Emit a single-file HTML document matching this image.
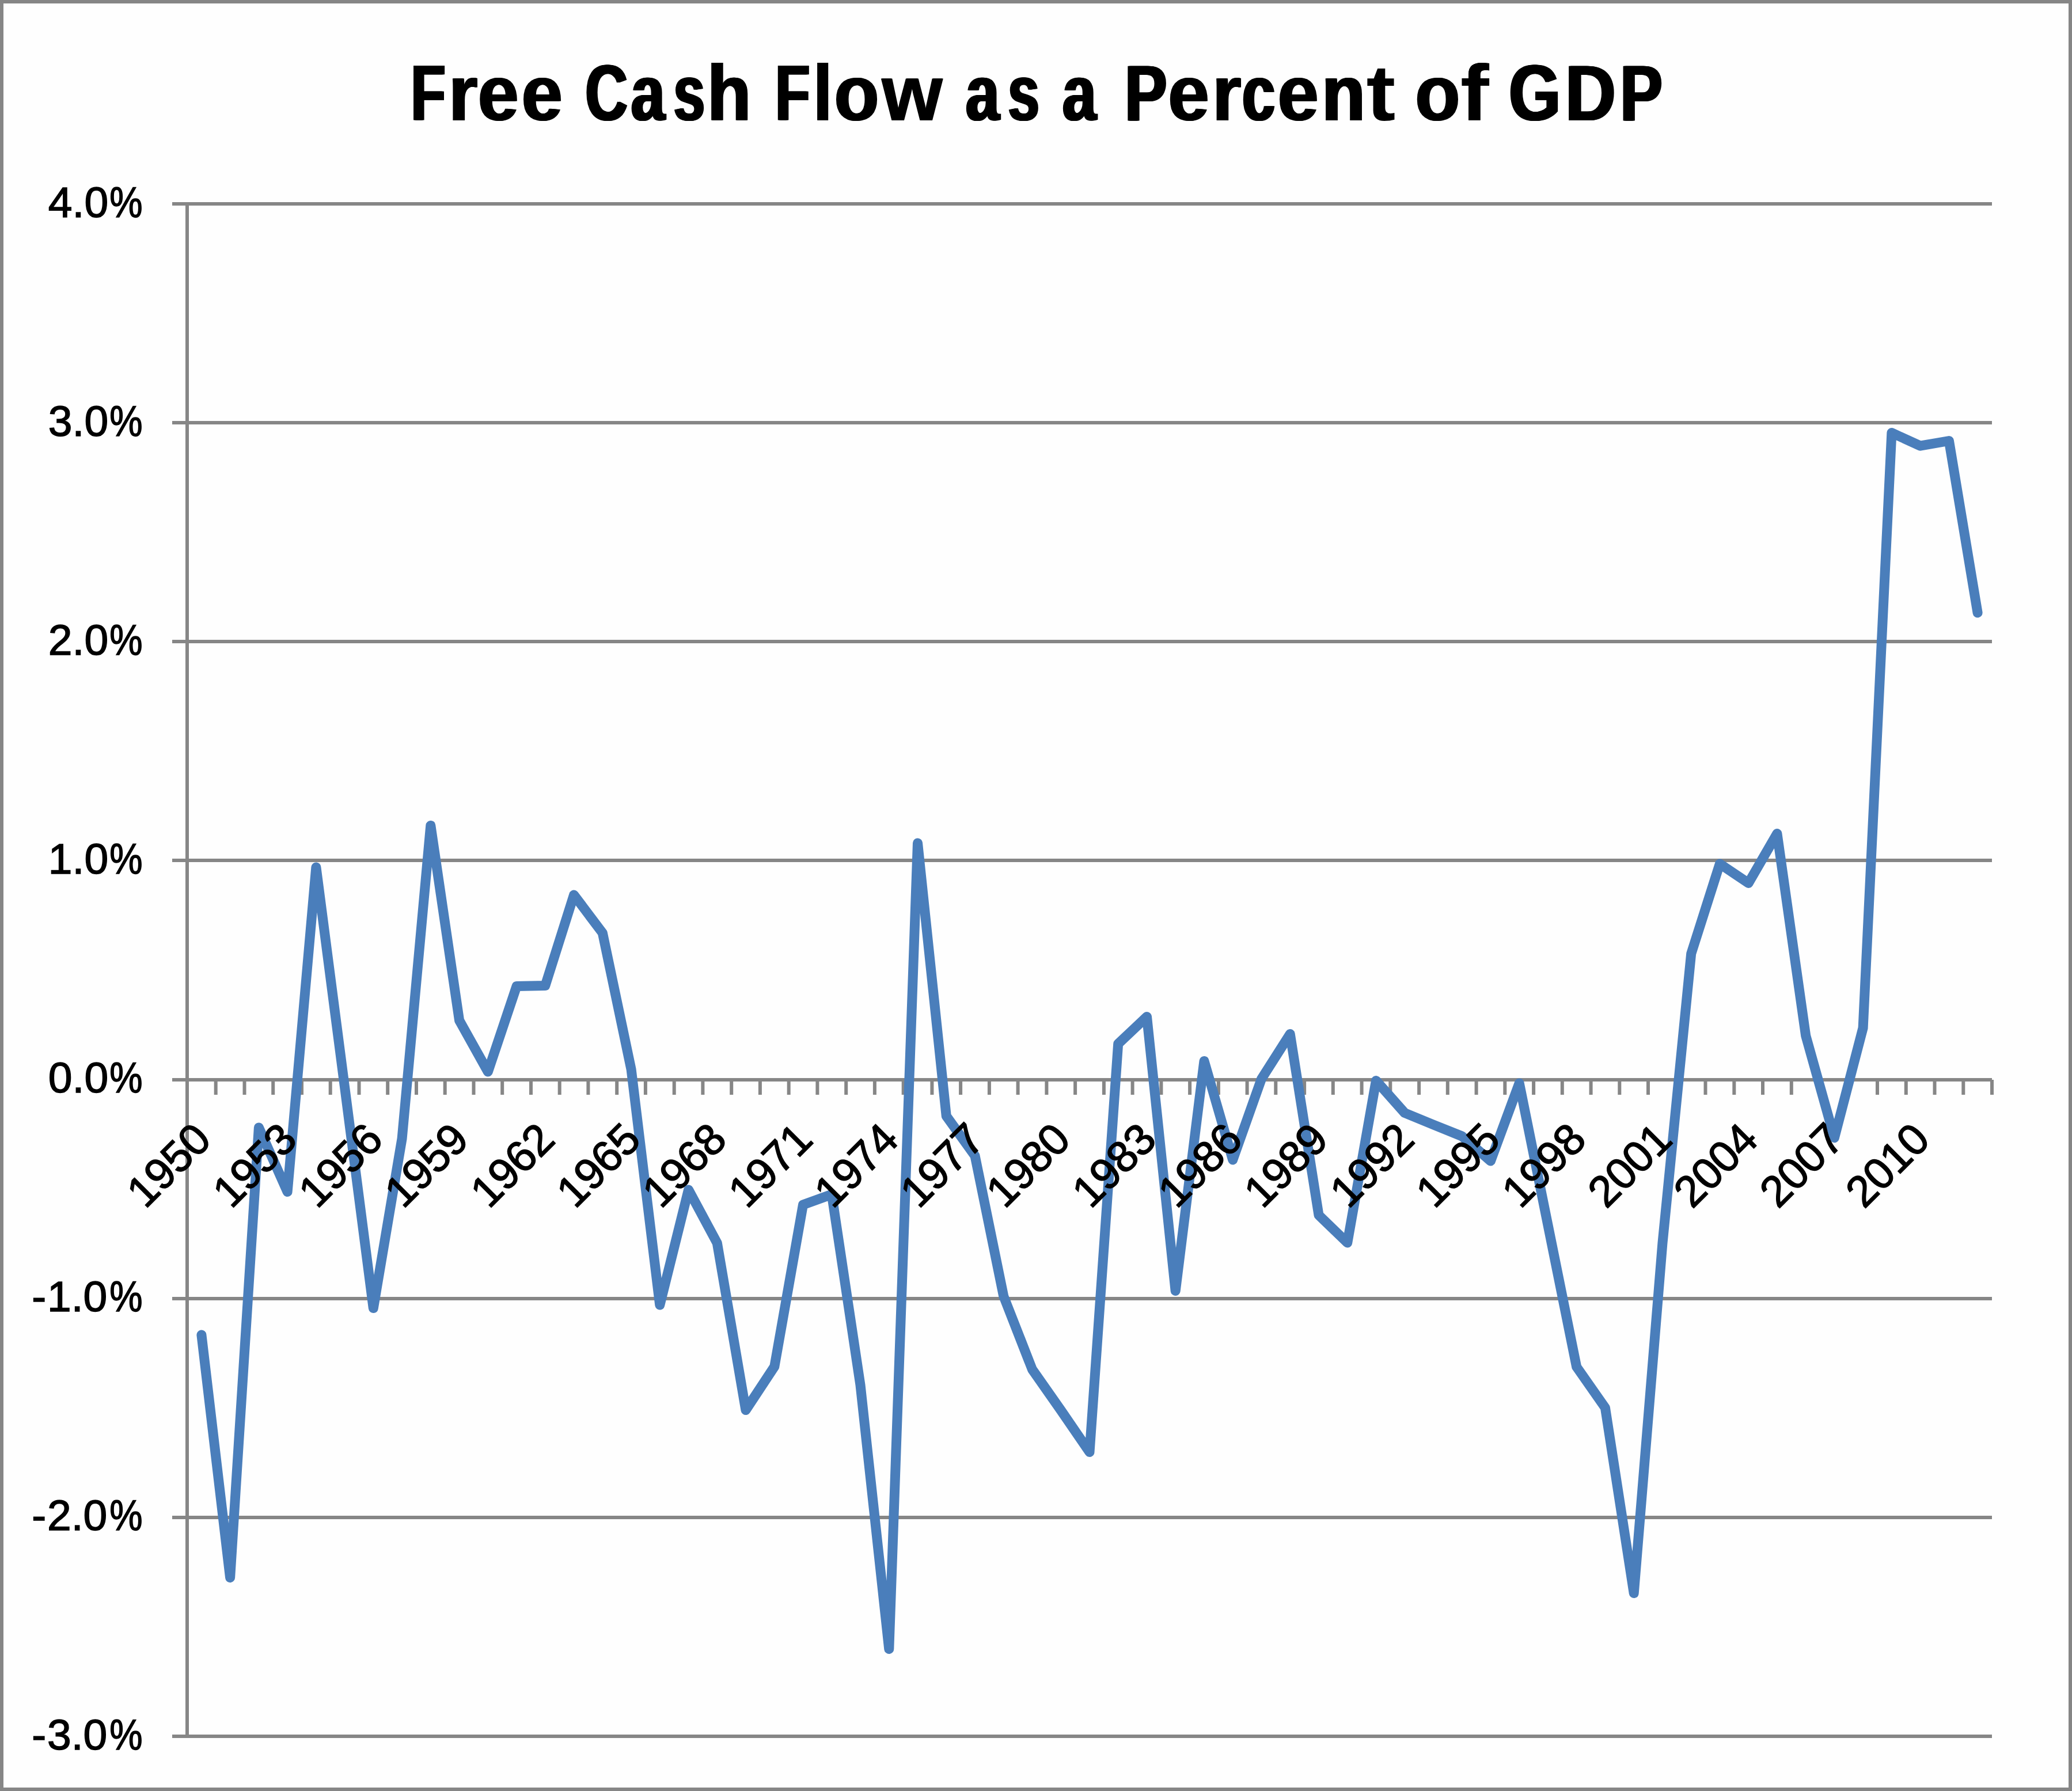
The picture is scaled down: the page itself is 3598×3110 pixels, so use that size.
<!DOCTYPE html>
<html><head><meta charset="utf-8"><title>Free Cash Flow as a Percent of GDP</title>
<style>
html,body{margin:0;padding:0;background:#fefefe;}
body{width:3598px;height:3110px;overflow:hidden;}
svg{display:block;}
text{font-family:"Liberation Sans",sans-serif;fill:#000;}
.t{font-weight:bold;font-size:137px;stroke:#000;stroke-width:0;}
.y{font-size:75px;stroke:#000;stroke-width:1.5;}
.x{font-size:76px;stroke:#000;stroke-width:1.5;}
</style></head><body>
<svg width="3598" height="3110" viewBox="0 0 3598 3110">
<rect x="0" y="0" width="3598" height="3110" fill="#fefefe"/>
<rect x="3" y="3" width="3592" height="3104" fill="none" stroke="#868686" stroke-width="6"/>
<g stroke="#868686" stroke-width="6" fill="none">
<line x1="299" y1="354" x2="3459" y2="354"/>
<line x1="299" y1="734" x2="3459" y2="734"/>
<line x1="299" y1="1114" x2="3459" y2="1114"/>
<line x1="299" y1="1494" x2="3459" y2="1494"/>
<line x1="299" y1="1875" x2="3459" y2="1875"/>
<line x1="299" y1="2255" x2="3459" y2="2255"/>
<line x1="299" y1="2635" x2="3459" y2="2635"/>
<line x1="299" y1="3015" x2="3459" y2="3015"/>
<line x1="325" y1="351" x2="325" y2="3018"/>
<path d="M374.7 1875V1901M424.5 1875V1901M474.2 1875V1901M524.0 1875V1901M573.7 1875V1901M623.5 1875V1901M673.2 1875V1901M723.0 1875V1901M772.7 1875V1901M822.5 1875V1901M872.2 1875V1901M922.0 1875V1901M971.7 1875V1901M1021.4 1875V1901M1071.2 1875V1901M1120.9 1875V1901M1170.7 1875V1901M1220.4 1875V1901M1270.2 1875V1901M1319.9 1875V1901M1369.7 1875V1901M1419.4 1875V1901M1469.2 1875V1901M1518.9 1875V1901M1568.7 1875V1901M1618.4 1875V1901M1668.1 1875V1901M1717.9 1875V1901M1767.6 1875V1901M1817.4 1875V1901M1867.1 1875V1901M1916.9 1875V1901M1966.6 1875V1901M2016.4 1875V1901M2066.1 1875V1901M2115.9 1875V1901M2165.6 1875V1901M2215.3 1875V1901M2265.1 1875V1901M2314.8 1875V1901M2364.6 1875V1901M2414.3 1875V1901M2464.1 1875V1901M2513.8 1875V1901M2563.6 1875V1901M2613.3 1875V1901M2663.1 1875V1901M2712.8 1875V1901M2762.6 1875V1901M2812.3 1875V1901M2862.0 1875V1901M2911.8 1875V1901M2961.5 1875V1901M3011.3 1875V1901M3061.0 1875V1901M3110.8 1875V1901M3160.5 1875V1901M3210.3 1875V1901M3260.0 1875V1901M3309.8 1875V1901M3359.5 1875V1901M3409.3 1875V1901M3459.0 1875V1901"/>
</g>
<polyline points="349.9,2318.0 399.6,2739.5 449.4,1958.0 499.1,2069.5 548.9,1506.0 598.6,1888.0 648.3,2271.5 698.1,1977.0 747.8,1433.5 797.6,1772.0 847.3,1861.0 897.1,1712.5 946.8,1711.5 996.6,1554.0 1046.3,1620.0 1096.1,1857.0 1145.8,2266.0 1195.6,2066.0 1245.3,2158.5 1295.0,2448.5 1344.8,2373.0 1394.5,2092.0 1444.3,2074.0 1494.0,2405.0 1543.8,2863.5 1593.5,1464.0 1643.3,1938.0 1693.0,2007.0 1742.8,2251.0 1792.5,2378.0 1842.3,2449.0 1892.0,2521.5 1941.7,1812.5 1991.5,1765.5 2041.2,2241.5 2091.0,1842.5 2140.7,2014.0 2190.5,1873.5 2240.2,1795.5 2290.0,2110.0 2339.7,2158.0 2389.5,1876.5 2439.2,1932.5 2489.0,1953.0 2538.7,1973.0 2588.4,2016.0 2638.2,1881.0 2687.9,2127.0 2737.7,2373.5 2787.4,2444.5 2837.2,2766.5 2886.9,2159.0 2936.7,1656.0 2986.4,1500.0 3036.2,1533.5 3085.9,1447.5 3135.7,1798.5 3185.4,1975.7 3235.1,1785.0 3284.9,751.5 3334.6,774.2 3384.4,765.5 3434.1,1064.0" fill="none" stroke="#4a7ebb" stroke-width="17" stroke-linejoin="round" stroke-linecap="round"/>
<text class="y" text-anchor="end" x="188.1" y="377.0">4.0</text>
<text class="y" x="190.2" y="377.0" textLength="57.3" lengthAdjust="spacingAndGlyphs">%</text>
<text class="y" text-anchor="end" x="188.1" y="757.2">3.0</text>
<text class="y" x="190.2" y="757.2" textLength="57.3" lengthAdjust="spacingAndGlyphs">%</text>
<text class="y" text-anchor="end" x="188.1" y="1137.0">2.0</text>
<text class="y" x="190.2" y="1137.0" textLength="57.3" lengthAdjust="spacingAndGlyphs">%</text>
<text class="y" text-anchor="end" x="188.1" y="1517.2">1.0</text>
<text class="y" x="190.2" y="1517.2" textLength="57.3" lengthAdjust="spacingAndGlyphs">%</text>
<text class="y" text-anchor="end" x="188.1" y="1897.3">0.0</text>
<text class="y" x="190.2" y="1897.3" textLength="57.3" lengthAdjust="spacingAndGlyphs">%</text>
<text class="y" text-anchor="end" x="188.1" y="2277.1"><tspan dx="-1.8">-</tspan><tspan dx="1.8">1.0</tspan></text>
<text class="y" x="190.2" y="2277.1" textLength="57.3" lengthAdjust="spacingAndGlyphs">%</text>
<text class="y" text-anchor="end" x="188.1" y="2657.2"><tspan dx="-1.8">-</tspan><tspan dx="1.8">2.0</tspan></text>
<text class="y" x="190.2" y="2657.2" textLength="57.3" lengthAdjust="spacingAndGlyphs">%</text>
<text class="y" text-anchor="end" x="188.1" y="3038.3"><tspan dx="-1.8">-</tspan><tspan dx="1.8">3.0</tspan></text>
<text class="y" x="190.2" y="3038.3" textLength="57.3" lengthAdjust="spacingAndGlyphs">%</text>
<text class="x" x="-167.0" y="0" textLength="167.0" lengthAdjust="spacing" transform="translate(370.3 1982.5) rotate(-45)">1950</text>
<text class="x" x="-167.0" y="0" textLength="167.0" lengthAdjust="spacing" transform="translate(519.5 1982.5) rotate(-45)">1953</text>
<text class="x" x="-167.0" y="0" textLength="167.0" lengthAdjust="spacing" transform="translate(668.7 1982.5) rotate(-45)">1956</text>
<text class="x" x="-167.0" y="0" textLength="167.0" lengthAdjust="spacing" transform="translate(818.0 1982.5) rotate(-45)">1959</text>
<text class="x" x="-167.0" y="0" textLength="167.0" lengthAdjust="spacing" transform="translate(967.2 1982.5) rotate(-45)">1962</text>
<text class="x" x="-167.0" y="0" textLength="167.0" lengthAdjust="spacing" transform="translate(1116.5 1982.5) rotate(-45)">1965</text>
<text class="x" x="-167.0" y="0" textLength="167.0" lengthAdjust="spacing" transform="translate(1265.7 1982.5) rotate(-45)">1968</text>
<text class="x" x="-167.0" y="0" textLength="167.0" lengthAdjust="spacing" transform="translate(1414.9 1982.5) rotate(-45)">1971</text>
<text class="x" x="-167.0" y="0" textLength="167.0" lengthAdjust="spacing" transform="translate(1564.2 1982.5) rotate(-45)">1974</text>
<text class="x" x="-167.0" y="0" textLength="167.0" lengthAdjust="spacing" transform="translate(1713.4 1982.5) rotate(-45)">1977</text>
<text class="x" x="-167.0" y="0" textLength="167.0" lengthAdjust="spacing" transform="translate(1862.7 1982.5) rotate(-45)">1980</text>
<text class="x" x="-167.0" y="0" textLength="167.0" lengthAdjust="spacing" transform="translate(2011.9 1982.5) rotate(-45)">1983</text>
<text class="x" x="-167.0" y="0" textLength="167.0" lengthAdjust="spacing" transform="translate(2161.1 1982.5) rotate(-45)">1986</text>
<text class="x" x="-167.0" y="0" textLength="167.0" lengthAdjust="spacing" transform="translate(2310.4 1982.5) rotate(-45)">1989</text>
<text class="x" x="-167.0" y="0" textLength="167.0" lengthAdjust="spacing" transform="translate(2459.6 1982.5) rotate(-45)">1992</text>
<text class="x" x="-167.0" y="0" textLength="167.0" lengthAdjust="spacing" transform="translate(2608.8 1982.5) rotate(-45)">1995</text>
<text class="x" x="-167.0" y="0" textLength="167.0" lengthAdjust="spacing" transform="translate(2758.1 1982.5) rotate(-45)">1998</text>
<text class="x" x="-167.0" y="0" textLength="167.0" lengthAdjust="spacing" transform="translate(2907.3 1982.5) rotate(-45)">2001</text>
<text class="x" x="-167.0" y="0" textLength="167.0" lengthAdjust="spacing" transform="translate(3056.6 1982.5) rotate(-45)">2004</text>
<text class="x" x="-167.0" y="0" textLength="167.0" lengthAdjust="spacing" transform="translate(3205.8 1982.5) rotate(-45)">2007</text>
<text class="x" x="-167.0" y="0" textLength="167.0" lengthAdjust="spacing" transform="translate(3355.0 1982.5) rotate(-45)">2010</text>
<text class="t" transform="translate(711.42 208.5) scale(0.7129 1)">F</text>
<text class="t" transform="translate(712.92 208.5) scale(0.7129 1)">F</text>
<text class="t" transform="translate(714.42 208.5) scale(0.7129 1)">F</text>
<text class="t" transform="translate(715.92 208.5) scale(0.7129 1)">F</text>
<text class="t" transform="translate(777.26 208.5) scale(0.9567 1)">r</text>
<text class="t" transform="translate(778.62 208.5) scale(0.9567 1)">r</text>
<text class="t" transform="translate(779.98 208.5) scale(0.9567 1)">r</text>
<text class="t" transform="translate(828.23 208.5) scale(0.9290 1)">e</text>
<text class="t" transform="translate(829.85 208.5) scale(0.9290 1)">e</text>
<text class="t" transform="translate(831.46 208.5) scale(0.9290 1)">e</text>
<text class="t" transform="translate(904.09 208.5) scale(0.9354 1)">e</text>
<text class="t" transform="translate(905.65 208.5) scale(0.9354 1)">e</text>
<text class="t" transform="translate(907.21 208.5) scale(0.9354 1)">e</text>
<text class="t" transform="translate(1014.13 208.5) scale(0.7413 1)">C</text>
<text class="t" transform="translate(1015.63 208.5) scale(0.7413 1)">C</text>
<text class="t" transform="translate(1017.13 208.5) scale(0.7413 1)">C</text>
<text class="t" transform="translate(1018.63 208.5) scale(0.7413 1)">C</text>
<text class="t" transform="translate(1093.41 208.5) scale(0.7707 1)">a</text>
<text class="t" transform="translate(1094.91 208.5) scale(0.7707 1)">a</text>
<text class="t" transform="translate(1096.41 208.5) scale(0.7707 1)">a</text>
<text class="t" transform="translate(1097.91 208.5) scale(0.7707 1)">a</text>
<text class="t" transform="translate(1167.38 208.5) scale(0.7102 1)">s</text>
<text class="t" transform="translate(1168.88 208.5) scale(0.7102 1)">s</text>
<text class="t" transform="translate(1170.38 208.5) scale(0.7102 1)">s</text>
<text class="t" transform="translate(1171.88 208.5) scale(0.7102 1)">s</text>
<text class="t" transform="translate(1226.42 208.5) scale(0.9076 1)">h</text>
<text class="t" transform="translate(1227.63 208.5) scale(0.9076 1)">h</text>
<text class="t" transform="translate(1228.84 208.5) scale(0.9076 1)">h</text>
<text class="t" transform="translate(1230.06 208.5) scale(0.9076 1)">h</text>
<text class="t" transform="translate(1344.32 208.5) scale(0.7129 1)">F</text>
<text class="t" transform="translate(1345.82 208.5) scale(0.7129 1)">F</text>
<text class="t" transform="translate(1347.32 208.5) scale(0.7129 1)">F</text>
<text class="t" transform="translate(1348.82 208.5) scale(0.7129 1)">F</text>
<text class="t" transform="translate(1409.63 208.5) scale(1.0000 1)">l</text>
<text class="t" transform="translate(1409.74 208.5) scale(1.0000 1)">l</text>
<text class="t" transform="translate(1447.02 208.5) scale(0.9302 1)">o</text>
<text class="t" transform="translate(1448.63 208.5) scale(0.9302 1)">o</text>
<text class="t" transform="translate(1450.24 208.5) scale(0.9302 1)">o</text>
<text class="t" transform="translate(1530.20 208.5) scale(0.9883 1)">w</text>
<text class="t" transform="translate(1531.26 208.5) scale(0.9883 1)">w</text>
<text class="t" transform="translate(1532.32 208.5) scale(0.9883 1)">w</text>
<text class="t" transform="translate(1674.73 208.5) scale(0.7652 1)">a</text>
<text class="t" transform="translate(1676.23 208.5) scale(0.7652 1)">a</text>
<text class="t" transform="translate(1677.73 208.5) scale(0.7652 1)">a</text>
<text class="t" transform="translate(1679.23 208.5) scale(0.7652 1)">a</text>
<text class="t" transform="translate(1748.28 208.5) scale(0.7102 1)">s</text>
<text class="t" transform="translate(1749.78 208.5) scale(0.7102 1)">s</text>
<text class="t" transform="translate(1751.28 208.5) scale(0.7102 1)">s</text>
<text class="t" transform="translate(1752.78 208.5) scale(0.7102 1)">s</text>
<text class="t" transform="translate(1842.82 208.5) scale(0.7680 1)">a</text>
<text class="t" transform="translate(1844.32 208.5) scale(0.7680 1)">a</text>
<text class="t" transform="translate(1845.82 208.5) scale(0.7680 1)">a</text>
<text class="t" transform="translate(1847.32 208.5) scale(0.7680 1)">a</text>
<text class="t" transform="translate(1950.96 208.5) scale(0.8010 1)">P</text>
<text class="t" transform="translate(1952.46 208.5) scale(0.8010 1)">P</text>
<text class="t" transform="translate(1953.96 208.5) scale(0.8010 1)">P</text>
<text class="t" transform="translate(1955.46 208.5) scale(0.8010 1)">P</text>
<text class="t" transform="translate(2026.82 208.5) scale(0.9406 1)">e</text>
<text class="t" transform="translate(2028.33 208.5) scale(0.9406 1)">e</text>
<text class="t" transform="translate(2029.83 208.5) scale(0.9406 1)">e</text>
<text class="t" transform="translate(2103.40 208.5) scale(0.9525 1)">r</text>
<text class="t" transform="translate(2104.80 208.5) scale(0.9525 1)">r</text>
<text class="t" transform="translate(2106.19 208.5) scale(0.9525 1)">r</text>
<text class="t" transform="translate(2154.69 208.5) scale(0.7497 1)">c</text>
<text class="t" transform="translate(2156.19 208.5) scale(0.7497 1)">c</text>
<text class="t" transform="translate(2157.69 208.5) scale(0.7497 1)">c</text>
<text class="t" transform="translate(2159.19 208.5) scale(0.7497 1)">c</text>
<text class="t" transform="translate(2216.98 208.5) scale(0.9375 1)">e</text>
<text class="t" transform="translate(2218.52 208.5) scale(0.9375 1)">e</text>
<text class="t" transform="translate(2220.06 208.5) scale(0.9375 1)">e</text>
<text class="t" transform="translate(2293.60 208.5) scale(0.8974 1)">n</text>
<text class="t" transform="translate(2294.87 208.5) scale(0.8974 1)">n</text>
<text class="t" transform="translate(2296.15 208.5) scale(0.8974 1)">n</text>
<text class="t" transform="translate(2297.43 208.5) scale(0.8974 1)">n</text>
<text class="t" transform="translate(2372.54 208.5) scale(1.1141 1)">t</text>
<text class="t" transform="translate(2455.69 208.5) scale(0.9357 1)">o</text>
<text class="t" transform="translate(2457.25 208.5) scale(0.9357 1)">o</text>
<text class="t" transform="translate(2458.80 208.5) scale(0.9357 1)">o</text>
<text class="t" transform="translate(2535.96 208.5) scale(1.0868 1)">f</text>
<text class="t" transform="translate(2536.23 208.5) scale(1.0868 1)">f</text>
<text class="t" transform="translate(2618.07 208.5) scale(0.8426 1)">G</text>
<text class="t" transform="translate(2619.57 208.5) scale(0.8426 1)">G</text>
<text class="t" transform="translate(2621.07 208.5) scale(0.8426 1)">G</text>
<text class="t" transform="translate(2622.57 208.5) scale(0.8426 1)">G</text>
<text class="t" transform="translate(2715.96 208.5) scale(0.8877 1)">D</text>
<text class="t" transform="translate(2717.30 208.5) scale(0.8877 1)">D</text>
<text class="t" transform="translate(2718.64 208.5) scale(0.8877 1)">D</text>
<text class="t" transform="translate(2719.98 208.5) scale(0.8877 1)">D</text>
<text class="t" transform="translate(2811.36 208.5) scale(0.8010 1)">P</text>
<text class="t" transform="translate(2812.86 208.5) scale(0.8010 1)">P</text>
<text class="t" transform="translate(2814.36 208.5) scale(0.8010 1)">P</text>
<text class="t" transform="translate(2815.86 208.5) scale(0.8010 1)">P</text>
</svg></body></html>
